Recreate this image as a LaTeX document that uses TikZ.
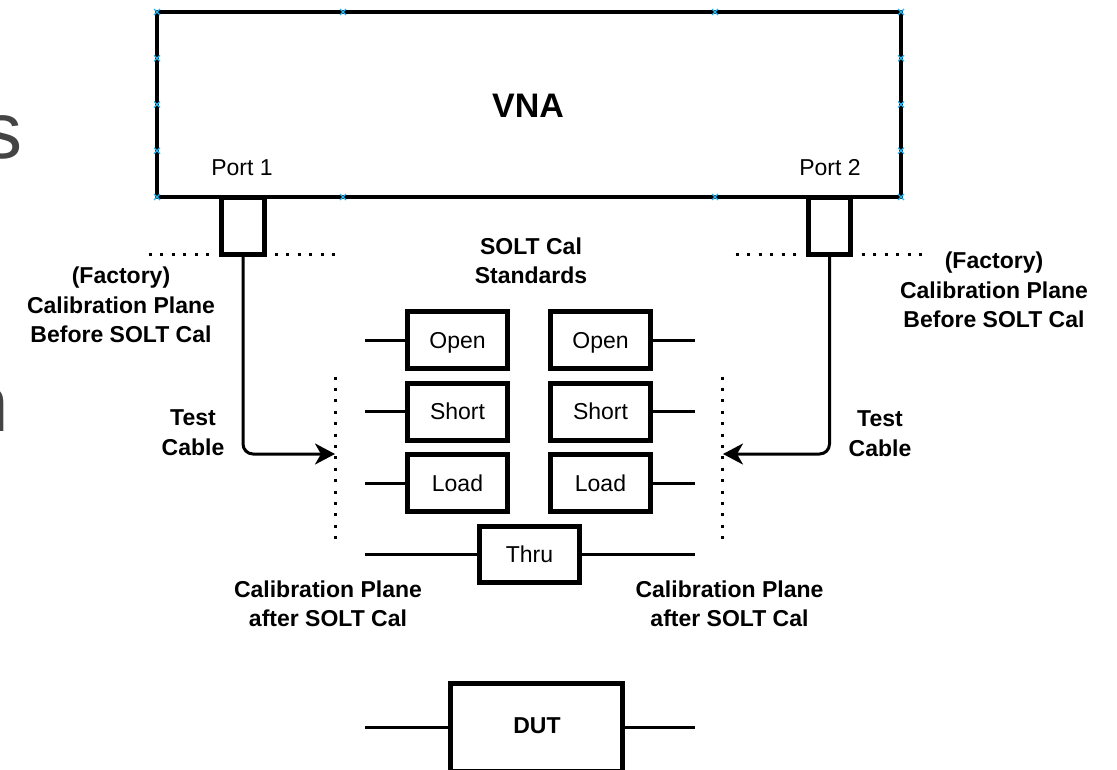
\documentclass[tikz,border=0pt]{standalone}
\usepackage{fontspec}
\setmainfont{Liberation Sans}
\usetikzlibrary{arrows.meta}
\definecolor{handlecol}{RGB}{41,182,242}
\definecolor{slidegray}{RGB}{68,68,68}
\begin{document}
\begin{tikzpicture}[x=1pt,y=-1pt,
  lbl/.style={inner sep=0pt, align=center, font=\fontsize{23}{29.5}\selectfont\bfseries},
  plain/.style={inner sep=0pt, font=\fontsize{23}{29.5}\selectfont},
  stdbox/.style={draw, line width=5pt, minimum width=100pt, minimum height=57pt, inner sep=0pt,
    font=\fontsize{23}{29.5}\selectfont, text height=16.5pt, text depth=0pt},
  portbox/.style={draw, line width=5pt, minimum height=57pt, inner sep=0pt},
  wire/.style={line width=3pt},
  cable/.style={line width=3pt, rounded corners=10pt, -{Stealth[length=20pt,width=21pt,inset=6pt]}},
  dotline/.style={line width=3pt, dash pattern=on 3pt off 8.5pt},
  handle/.style={draw=handlecol, line width=1.2pt}]
\useasboundingbox (0,0) rectangle (1117,769);
\clip (0,0) rectangle (1117,769);

% slide text fragments at the left edge
\node[anchor=base west, inner sep=0pt, text=slidegray, font=\fontsize{80}{80}\selectfont] (fragS) at (-17.7,158) {s};
\node[anchor=base west, inner sep=0pt, text=slidegray, font=\fontsize{80}{80}\selectfont] (fragN) at (-36,431) {n};

% VNA
\node[draw, line width=4.5pt, minimum width=744pt, minimum height=185pt, inner sep=0pt,
  font=\fontsize{34}{34}\selectfont\bfseries, text height=24.3pt, text depth=0pt] (vna) at (529,104.5) {};
\node[inner sep=0pt, font=\fontsize{34}{34}\selectfont\bfseries, text height=24.3pt, text depth=0pt] (vnatext) at (528,105.5) {VNA};
\node[plain] (port1) at (242,167.5) {Port 1};
\node[plain] (port2) at (830,167.5) {Port 2};

% selection handles
\foreach \hx/\hy in {157/12,343/12,715/12,901/12,157/197,343/197,715/197,901/197,
  157/58.25,157/104.5,157/150.75,901/58.25,901/104.5,901/150.75}{
  \draw[handle] (\hx-3,\hy-3) -- (\hx+3,\hy+3) (\hx-3,\hy+3) -- (\hx+3,\hy-3);
}

% port connectors
\node[portbox, minimum width=43pt] (p1) at (243,225.5) {};
\node[portbox, minimum width=42pt] (p2) at (829.5,225.5) {};

% factory calibration planes (dotted)
\draw[dotline] (148.5,254) -- (211,254);
\draw[dotline] (274.5,254) -- (337,254);
\draw[dotline] (735.5,254) -- (798,254);
\draw[dotline] (861.5,254) -- (924,254);

% calibration planes after SOLT cal (dotted)
\draw[dotline, dash pattern=on 3pt off 8.4pt] (335,376.5) -- (335,539.5);
\draw[dotline, dash pattern=on 3pt off 8.4pt] (722,376.5) -- (722,539.5);

% test cables
\coordinate (planeL) at (335,454);
\coordinate (planeR) at (723,454);
\draw[cable] (p1.south) |- (planeL);
\draw[cable] (p2.south) |- (planeR);

% labels
\node[lbl] (factL) at (121,305) {(Factory)\\Calibration Plane\\Before SOLT Cal};
\node[lbl] (factR) at (994,290) {(Factory)\\Calibration Plane\\Before SOLT Cal};
\node[lbl] (solt) at (531,261) {SOLT Cal\\Standards};
\node[lbl] (tcL) at (193,432.5) {Test\\Cable};
\node[lbl] (tcR) at (880,433.5) {Test\\Cable};
\node[lbl] (calL) at (328,604) {Calibration Plane\\after SOLT Cal};
\node[lbl] (calR) at (729.5,604) {Calibration Plane\\after SOLT Cal};

% SOLT standards
\node[stdbox] (openL) at (457.5,340) {Open};
\node[stdbox] (shortL) at (457.5,411.5) {Short};
\node[stdbox] (loadL) at (457.5,483) {Load};
\node[stdbox] (openR) at (600.5,340) {Open};
\node[stdbox] (shortR) at (600.5,411.5) {Short};
\node[stdbox] (loadR) at (600.5,483) {Load};
\node[stdbox, minimum height=56pt] (thru) at (529.5,554.5) {Thru};

\coordinate (wOL) at (365,340);
\coordinate (wSL) at (365,411.5);
\coordinate (wLL) at (365,483);
\coordinate (wOR) at (695,340);
\coordinate (wSR) at (695,411.5);
\coordinate (wLR) at (695,483);
\coordinate (wTL) at (365,554.5);
\coordinate (wTR) at (695,554.5);
\draw[wire] (wOL) -- (openL.west);
\draw[wire] (wSL) -- (shortL.west);
\draw[wire] (wLL) -- (loadL.west);
\draw[wire] (openR.east) -- (wOR);
\draw[wire] (shortR.east) -- (wSR);
\draw[wire] (loadR.east) -- (wLR);
\draw[wire] (wTL) -- (thru.west);
\draw[wire] (thru.east) -- (wTR);

% DUT
\node[stdbox, minimum width=172.5pt, minimum height=88pt, font=\fontsize{23}{29.5}\selectfont\bfseries] (dut) at (536.25,727) {};
\node[inner sep=0pt, font=\fontsize{23}{29.5}\selectfont\bfseries, text height=16.5pt, text depth=0pt] (duttext) at (537,725) {DUT};
\coordinate (wDL) at (365,727);
\coordinate (wDR) at (695,727);
\draw[wire] (wDL) -- (dut.west);
\draw[wire] (dut.east) -- (wDR);
\end{tikzpicture}
\end{document}
